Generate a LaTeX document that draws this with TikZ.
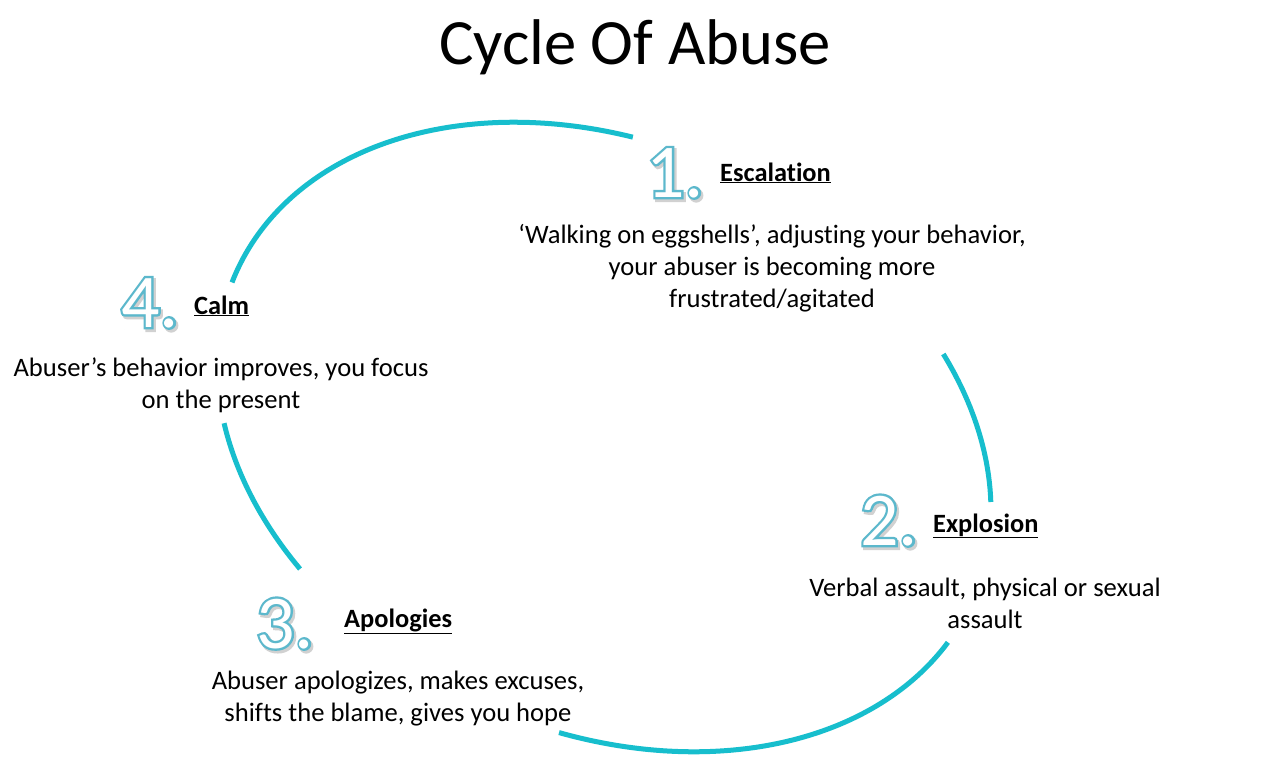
\documentclass[tikz,border=0pt]{standalone}
\usepackage{fontspec}
\setmainfont{Carlito}[Ligatures=NoCommon]
\definecolor{ring}{RGB}{23,190,205}
\newcommand\ringarc[2]{\draw[ringline] plot[domain=#1:#2, samples=90, variable=\t] ({604+403*cos(\t)*cos(24.1)-294*sin(\t)*sin(24.1)},{437+403*cos(\t)*sin(24.1)+294*sin(\t)*cos(24.1)});}
\newcommand\bignum[1]{%
  \rlap{\hspace{2pt}\raisebox{-2.5pt}{\textcolor{white}{\special{pdf:literal direct 2 Tr 5 w 0.82 0.82 0.82 RG 0.82 0.82 0.82 rg}#1\special{pdf:literal direct 0 Tr}}}}%
  \rlap{\textcolor{white}{\special{pdf:literal direct 2 Tr 4.6 w 0.36 0.72 0.80 RG}#1\special{pdf:literal direct 0 Tr}}}%
  \textcolor{white}{#1}}
\tikzset{
  ringline/.style={draw=ring, line width=5pt},
  body/.style={font=\fontsize{26.6}{32}\selectfont, align=center, inner sep=0pt},
  head/.style={font=\fontsize{26.4}{30}\selectfont\bfseries, anchor=base west, inner sep=0pt},
  num/.style={font=\fontsize{76}{80}\selectfont, anchor=base west, inner sep=0pt},
  title/.style={font=\fontsize{64.6}{70}\selectfont, inner sep=0pt}
}
\begin{document}
\begin{tikzpicture}[x=1pt,y=-1pt]
\useasboundingbox[fill=white] (0,0) rectangle (1277,782);
% ring
\ringarc{177.9}{256.2}
\ringarc{-46.8}{-19.6}
\ringarc{9.2}{78.6}
\ringarc{123.7}{151.0}
% title
\node[title] (title) at (635,47) {Cycle Of Abuse};
% stage 1
\node[num] (n1) at (646,197) {\bignum{1.}};
\node[head] (h1) at (720,181) {\underline{Escalation}};
\node[body] (b1) at (772,268.5) {‘Walking on eggshells’, adjusting your behavior,\\your abuser is becoming more\\frustrated/agitated};
% stage 2
\node[num] (n2) at (860,545) {\bignum{2.}};
\node[head] (h2) at (933,532) {\underline{Explosion}};
\node[body] (b2) at (985,603) {Verbal assault, physical or sexual\\assault};
% stage 3
\node[num] (n3) at (256,648) {\bignum{3.}};
\node[head] (h3) at (344,627) {\underline{Apologies}};
\node[body] (b3) at (398,698.5) {Abuser apologizes, makes excuses,\\shifts the blame, gives you hope};
% stage 4
\node[num] (n4) at (121,327) {\bignum{4.}};
\node[head] (h4) at (194,314) {\underline{Calm}};
\node[body] (b4) at (221,385) {Abuser’s behavior improves, you focus\\on the present};
\end{tikzpicture}
\end{document}
